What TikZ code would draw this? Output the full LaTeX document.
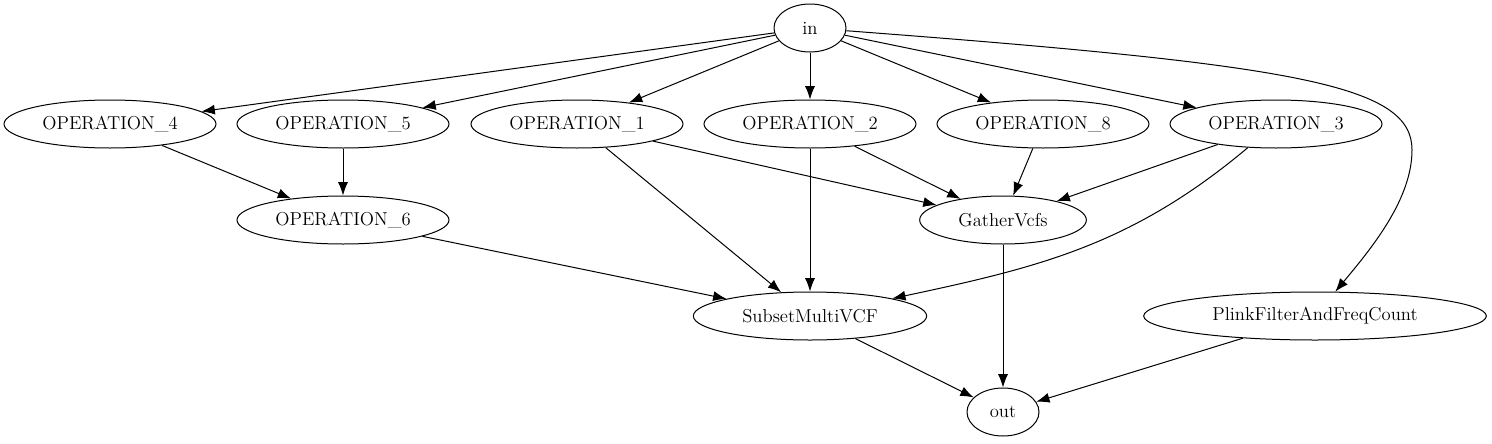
\documentclass[tikz,border=0pt]{standalone}
\usepackage{tikz}
\usetikzlibrary{calc, shapes.geometric, positioning, arrows.meta}

\tikzset{
    task/.style={ellipse, draw, line width=0.75pt, minimum height=36pt,
        minimum width=#1, inner sep=0pt,
        font=\fontsize{14}{17}\selectfont},
    task/.default=54pt,
    flow/.style={->, line width=0.75pt}
}

\begin{document}
\begin{tikzpicture}[>={Latex[length=10pt, width=7.5pt]}, x=0.75pt, y=-0.75pt]
    \useasboundingbox (0,0) rectangle (1492,443);

    % 1. Nodes, one row per rank
    \node[task] (in) at (810,28) {in};

    \node[task=159pt] (op4) at (110,124) {OPERATION\_4};
    \node[task=159pt] (op5) at (343,124) {OPERATION\_5};
    \node[task=159pt] (op1) at (577,124) {OPERATION\_1};
    \node[task=159pt] (op2) at (810,124) {OPERATION\_2};
    \node[task=159pt] (op8) at (1043,124) {OPERATION\_8};
    \node[task=159pt] (op3) at (1276,124) {OPERATION\_3};

    \node[task=159pt] (op6) at (343,220) {OPERATION\_6};
    \node[task=125pt] (gather) at (1003,220) {GatherVcfs};

    \node[task=175pt] (subset) at (810,316) {SubsetMultiVCF};
    \node[task=257pt] (plink) at (1315,316) {PlinkFilterAndFreqCount};

    \node[task] (out) at (1003,412) {out};

    % 2. Edges out of "in"
    \foreach \t in {op4, op5, op1, op2, op8, op3}
        \draw[flow] (in) -- (\t);
    \coordinate (plinkbend) at (1412,150);
    \draw[flow] (in) .. controls (1300,65) and (1412,85) .. (plinkbend)
        .. controls (1412,200) and (1370,250) .. (plink);

    % 3. Middle edges
    \draw[flow] (op4) -- (op6);
    \draw[flow] (op5) -- (op6);
    \foreach \s in {op1, op2, op8, op3}
        \draw[flow] (\s) -- (gather);
    \foreach \s in {op6, op1, op2}
        \draw[flow] (\s) -- (subset);
    \draw[flow] (op3) to[out=-140, in=12] (subset);

    % 4. Edges into "out"
    \draw[flow] (subset) -- (out);
    \draw[flow] (gather) -- (out);
    \draw[flow] (plink) -- (out);

\end{tikzpicture}
\end{document}
